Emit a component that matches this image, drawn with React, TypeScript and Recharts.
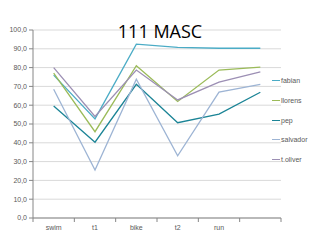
import { LineChart, Line, XAxis, YAxis, CartesianGrid } from "recharts";

const categories = ["swim", "t1", "bike", "t2", "run", ""];
const fabian = [76, 52.7, 92.5, 90.8, 90.3, 90.3];
const llorens = [77, 45.9, 81, 62, 78.7, 80.2];
const pep = [59.6, 40.3, 71.1, 50.7, 55.3, 66.9];
const salvador = [68.5, 25.5, 73.8, 33.1, 67, 71.1];
const toliver = [80, 54, 78.7, 62.8, 72.3, 77.7];
const yTicks = [0, 10, 20, 30, 40, 50, 60, 70, 80, 90, 100];

const series = [
  { key: "fabian", color: "#4bacc6" },
  { key: "llorens", color: "#9bbb59" },
  { key: "pep", color: "#1b8496" },
  { key: "salvador", color: "#9db4d4" },
  { key: "t.oliver", color: "#9c8fb4" },
];

const data = categories.map((c, i) => ({
  x: i + 0.5,
  name: c,
  fabian: fabian[i],
  llorens: llorens[i],
  pep: pep[i],
  salvador: salvador[i],
  "t.oliver": toliver[i],
}));

// boundary ticks at integers, labels at the half positions
const xTicks = categories.flatMap((_, i) => [i, i + 0.5]).concat([categories.length]);

function XTick(props: any) {
  const { x, y, payload } = props;
  const v = payload.value;
  if (Number.isInteger(v)) {
    return <line x1={x} x2={x} y1={y} y2={y + 4} stroke="#868686" />;
  }
  return (
    <text x={x} y={y + 12} textAnchor="middle" fontSize={7} fill="#595959">
      {categories[Math.floor(v)]}
    </text>
  );
}

function LegendBox() {
  return (
    <div style={{ position: "absolute", left: 272, top: 71 }}>
      {series.map((s) => (
        <div key={s.key} style={{ display: "flex", alignItems: "center", height: 19.7 }}>
          <span style={{ width: 8, height: 0, borderTop: `1.5px solid ${s.color}`, marginRight: 1 }} />
          <span style={{ fontSize: 7, color: "#595959" }}>{s.key}</span>
        </div>
      ))}
    </div>
  );
}

export default function App() {
  return (
    <div style={{ position: "absolute", left: 0, top: 0, width: 320, height: 240, background: "#fff", fontFamily: "'Liberation Sans', Arial, sans-serif" }}>
      <LineChart width={320} height={240} data={data} margin={{ top: 30, right: 39, bottom: 14, left: 0 }}>
        <CartesianGrid vertical={false} stroke="#d9d9d9" />
        <XAxis
          dataKey="x"
          type="number"
          domain={[0, categories.length]}
          ticks={xTicks}
          interval={0}
          tick={<XTick />}
          tickLine={false}
          tickSize={0}
          tickMargin={0}
          height={8}
          stroke="#868686"
        />
        <YAxis
          domain={[0, 100]}
          ticks={yTicks}
          width={33}
          interval={0}
          tickSize={4}
          stroke="#868686"
          tick={{ fontSize: 7, fill: "#595959" }}
          tickFormatter={(v: number) => v.toFixed(1).replace(".", ",")}
        />
        {series.map((s) => (
          <Line key={s.key} dataKey={s.key} stroke={s.color} strokeWidth={1.3} dot={false} isAnimationActive={false} />
        ))}
      </LineChart>
      <div style={{ position: "absolute", left: 0, width: 320, top: 19, textAlign: "center", fontSize: 18, color: "#000", fontFamily: "'Open Sans', sans-serif" }}>
        111 MASC
      </div>
      <LegendBox />
    </div>
  );
}
